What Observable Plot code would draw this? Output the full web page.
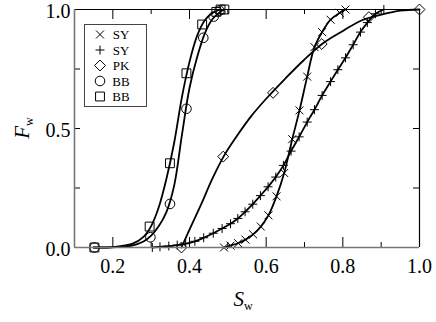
<!DOCTYPE html>
<html>
<head>
<meta charset="utf-8">
<script src="https://cdn.jsdelivr.net/npm/d3@7"></script>
<script src="https://cdn.jsdelivr.net/npm/@observablehq/plot@0.6"></script>
<style>
  html, body { margin: 0; padding: 0; background: white; }
</style>
</head>
<body>
<div id="chart"></div>
<script>
// ---------- data ----------
// SY (×) measured points
const syCrossS = [0.490,0.507,0.527,0.546,0.566,0.586,0.606,0.627,0.647,0.668,0.687,0.707,0.726,0.746,0.768,0.792,0.807];
const syCrossF = [0.000,0.008,0.018,0.033,0.055,0.088,0.135,0.215,0.313,0.455,0.576,0.718,0.842,0.905,0.957,0.986,1.000];
// SY (+) measured points
const syPlusS = [0.303,0.323,0.346,0.368,0.390,0.414,0.437,0.462,0.485,0.507,0.526,0.545,0.565,0.585,0.605,0.625,0.645,0.665,0.686,0.707,0.726,0.746,0.768,0.787,0.807,0.827,0.846,0.864,0.885,0.907];
const syPlusF = [0.000,0.003,0.006,0.010,0.016,0.026,0.041,0.060,0.080,0.100,0.122,0.150,0.182,0.218,0.255,0.296,0.345,0.405,0.465,0.527,0.579,0.639,0.697,0.747,0.797,0.852,0.905,0.945,0.982,1.000];
// PK (◇) measured points
const pkS = [0.379,0.488,0.618,0.745,0.868,1.000];
const pkF = [0.000,0.382,0.650,0.855,0.968,1.000];
// BB (○) measured points
const bbCircS = [0.152,0.298,0.349,0.392,0.436,0.463,0.478];
const bbCircF = [0.000,0.043,0.183,0.583,0.881,0.970,0.995];
// BB (□) measured points
const bbSqS = [0.152,0.296,0.349,0.392,0.433,0.470,0.481,0.491];
const bbSqF = [0.000,0.088,0.354,0.732,0.937,0.990,1.000,1.000];

// fitted curves
const pkFitS = [0.379,0.40,0.43,0.46,0.49,0.52,0.56,0.60,0.65,0.70,0.75,0.80,0.85,0.90,0.95,1.00];
const pkFitF = [0.000,0.075,0.18,0.29,0.385,0.46,0.55,0.625,0.71,0.79,0.86,0.91,0.955,0.978,0.995,1.000];
const bbCircFitS = [0.15,0.20,0.25,0.28,0.30,0.32,0.34,0.36,0.38,0.40,0.42,0.44,0.46,0.48,0.49];
const bbCircFitF = [0.000,0.001,0.008,0.025,0.05,0.09,0.15,0.26,0.47,0.67,0.80,0.90,0.96,0.99,1.000];
const bbSqFitS = [0.15,0.20,0.25,0.28,0.30,0.32,0.34,0.36,0.38,0.40,0.42,0.44,0.46,0.48];
const bbSqFitF = [0.000,0.002,0.015,0.045,0.09,0.17,0.29,0.44,0.63,0.78,0.89,0.955,0.985,1.000];

// axes
const xTickLabels = [0.2,0.4,0.6,0.8,1.0];
const xMinorTicks = [0.3,0.5,0.7,0.9];
const yTickLabels = [0.0,0.5,1.0];
const yTicks = [0.25,0.5,0.75];
const legendLabels = ["SY","SY","PK","BB","BB"];
const legendSymbols = ["times","plus","diamond2","circle","square"];

// ---------- layout ----------
const W = 436, H = 322, mL = 74, mR = 17, mT = 9, mB = 75;
const plotW = W - mL - mR, plotH = H - mT - mB;
const serif = "'Liberation Serif', 'Times New Roman', serif";

const zip = (xs, ys) => xs.map((s, i) => ({s, f: ys[i]}));
const syCross = zip(syCrossS, syCrossF);
const syPlus = zip(syPlusS, syPlusF);
const pk = zip(pkS, pkF);
const bbCirc = zip(bbCircS, bbCircF);
const bbSq = zip(bbSqS, bbSqF);

const symR = {times: 3.7, plus: 3.0, diamond2: 4.9, circle: 4.8, square: 5.0};
const lineOpts = {x: "s", y: "f", stroke: "black", strokeWidth: 1.8, curve: "catmull-rom"};
const dotOpts = (sym) => ({x: "s", y: "f", symbol: () => sym, r: symR[sym], stroke: "black", strokeWidth: 1, fill: "none"});

const chart = Plot.plot({
  width: W, height: H,
  marginLeft: mL, marginRight: mR, marginTop: mT, marginBottom: mB,
  style: {fontFamily: serif, fontSize: "20px", background: "white", color: "black"},
  x: {domain: [0.1, 1.0]},
  y: {domain: [0, 1]},
  symbol: {type: "identity"},
  marks: [
    Plot.axisX({ticks: xTickLabels, tickSize: 0, tickPadding: 11, tickFormat: d3.format(".1f"), label: null}),
    Plot.axisY({ticks: yTickLabels, tickSize: 0, tickPadding: 4, dy: 2, tickFormat: d3.format(".1f"), label: null}),
    // curves
    Plot.line(zip(bbSqFitS, bbSqFitF), lineOpts),
    Plot.line(zip(bbCircFitS, bbCircFitF), lineOpts),
    Plot.line(zip(pkFitS, pkFitF), lineOpts),
    Plot.line(syCross, lineOpts),
    Plot.line(syPlus, lineOpts),
    // points
    Plot.dot(bbSq, dotOpts("square")),
    Plot.dot(bbCirc, dotOpts("circle")),
    Plot.dot(pk, dotOpts("diamond2")),
    Plot.dot(syPlus, dotOpts("plus")),
    Plot.dot(syCross, dotOpts("times")),
    // inward ticks
    Plot.ruleX(xTickLabels, {insetTop: plotH - 10, stroke: "black"}),
    Plot.ruleX(xMinorTicks, {insetTop: plotH - 5, stroke: "black"}),
    Plot.ruleX(xTickLabels, {insetBottom: plotH - 10, stroke: "black"}),
    Plot.ruleX(xMinorTicks, {insetBottom: plotH - 5, stroke: "black"}),
    Plot.ruleY(yTicks, {insetRight: plotW - 6, stroke: "black"}),
    Plot.ruleY(yTicks, {insetLeft: plotW - 6, stroke: "black"}),
    // frame
    Plot.ruleY([1], {stroke: "black", strokeWidth: 1.2}),
    Plot.ruleX([1], {stroke: "black", strokeWidth: 1.2}),
    Plot.ruleX([0.1], {stroke: "#777", strokeWidth: 1.6}),
    Plot.ruleY([0], {stroke: "#777", strokeWidth: 1.6})
  ]
});

document.getElementById("chart").appendChild(chart);

// ---------- legend and axis titles ----------
const svg = d3.select(chart);
const symMap = {times: d3.symbolTimes, plus: d3.symbolPlus, diamond2: d3.symbolDiamond2, circle: d3.symbolCircle, square: d3.symbolSquare};
const lg = svg.append("g");
lg.append("rect").attr("x", 84.5).attr("y", 24.5).attr("width", 62).attr("height", 82)
  .attr("fill", "white").attr("stroke", "#444").attr("stroke-width", 1);
legendLabels.forEach((lab, i) => {
  const y = 34.5 + i * 15.5;
  const sym = legendSymbols[i];
  lg.append("path")
    .attr("transform", `translate(100,${y})`)
    .attr("d", d3.symbol(symMap[sym], Math.PI * symR[sym] * symR[sym])())
    .attr("fill", "none").attr("stroke", "black").attr("stroke-width", 1);
  lg.append("text").attr("x", 121).attr("y", y).attr("dy", "0.35em")
    .attr("font-size", 13).attr("font-family", serif).attr("fill", "black").text(lab);
});

const xt = svg.append("text").attr("x", 243).attr("y", 306).attr("text-anchor", "middle")
  .attr("font-family", serif).attr("fill", "black");
xt.append("tspan").attr("font-style", "italic").attr("font-size", 21).text("S");
xt.append("tspan").attr("font-size", 12).attr("dy", 4).text("w");

const yt = svg.append("text").attr("transform", "translate(29,128) rotate(-90)").attr("text-anchor", "middle")
  .attr("font-family", serif).attr("fill", "black");
yt.append("tspan").attr("font-style", "italic").attr("font-size", 21).text("F");
yt.append("tspan").attr("font-size", 12).attr("dy", 4).text("w");
</script>
</body>
</html>
